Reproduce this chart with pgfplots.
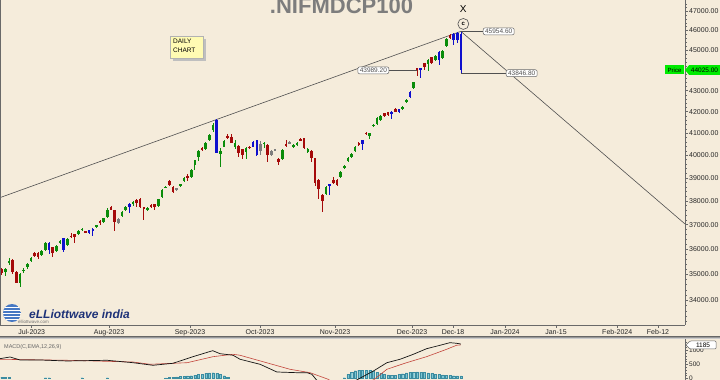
\documentclass[border=0pt]{standalone}
\usepackage{pgfplots}
\pgfplotsset{compat=1.18}
\usepackage{pgfplotstable}
\usepackage{fontspec}
\setmainfont{Liberation Sans}

\definecolor{bg}{RGB}{245,236,219}
\definecolor{cgreen}{RGB}{10,140,10}
\definecolor{cred}{RGB}{165,10,10}
\definecolor{cblue}{RGB}{15,15,205}
\definecolor{cgray}{RGB}{125,125,125}
\definecolor{macdblack}{RGB}{20,20,20}
\definecolor{macdred}{RGB}{195,70,60}
\definecolor{histfill}{RGB}{125,198,212}
\definecolor{histdraw}{RGB}{60,140,160}
\definecolor{axisgray}{RGB}{105,105,105}
\definecolor{titlegray}{RGB}{125,125,125}
\definecolor{trend}{RGB}{80,80,80}
\definecolor{logoblue}{RGB}{30,50,120}
\definecolor{globeblue}{RGB}{70,120,195}
\definecolor{tagGreen}{RGB}{0,235,0}

% daily candles: k = trading-day index (1 = 20 Jun 2023 ... 127 = 20 Dec 2023)
\pgfplotstableread{
k o h l c col
1 35200 35270 34970 35040 2
2 35090 35250 34930 35210 1
3 35470 35650 35370 35510 1
4 35570 35610 35010 35100 2
5 35100 35130 34650 34670 2
6 34650 35050 34520 35000 1
7 35150 35250 35050 35190 1
8 35300 35460 35210 35410 1
9 35540 35690 35490 35650 1
10 35830 35890 35670 35730 2
11 35830 35870 35600 35670 2
12 35750 35960 35710 35930 1
13 35960 36310 35930 36260 1
14 36260 36290 35810 35960 3
15 36070 36110 35700 35860 2
16 35940 36170 35900 36140 1
17 36240 36370 36210 36340 1
18 36440 36470 35890 35990 3
19 36180 36460 36150 36430 1
20 36550 36670 36470 36510 2
21 36620 36640 36260 36510 2
22 36610 36770 36580 36740 1
23 36790 36870 36760 36830 1
24 36730 36760 36650 36670 2
25 36780 36800 36620 36650 3
26 36840 36870 36540 36740 3
27 36930 37010 36890 36970 1
28 37160 37200 36990 37060 2
29 37130 37300 37090 37270 1
30 37320 37680 37280 37640 1
31 37760 37790 37600 37640 2
32 37620 37640 36740 37130 2
33 37240 37280 37030 37080 4
34 37370 37580 37320 37550 1
35 37620 37770 37580 37730 1
36 37870 37900 37480 37760 3
37 37900 38000 37790 37970 1
38 38040 38070 37760 37900 2
39 38070 38110 37690 37760 2
40 37720 37760 37200 37690 2
41 37620 37740 37580 37710 1
42 37840 37870 37720 37760 2
43 37860 37890 37620 37730 2
44 37790 38100 37740 38070 1
45 38160 38510 38130 38470 1
46 38570 38640 38540 38610 1
47 38860 38900 38640 38670 2
48 38610 38640 38360 38400 2
49 38540 38580 38450 38490 4
50 38640 38750 38610 38720 1
51 38870 39030 38840 39010 1
52 39090 39170 38860 39020 2
53 39030 39390 39000 39360 1
54 39550 39810 39340 39790 1
55 39930 40240 39740 40200 1
56 40310 40350 40190 40240 2
57 40280 40580 40240 40540 1
58 40680 40960 40620 40930 1
59 41130 41450 41070 41400 1
60 41610 41660 40080 40090 3
61 40050 40310 39490 40200 1
62 40390 40690 40350 40660 1
63 40880 40950 40710 40770 2
64 40840 40960 40530 40570 2
65 40390 40690 40270 40570 1
66 40430 40460 39910 40090 2
67 40270 40300 39820 40010 2
68 40160 40370 39820 40340 1
69 40390 40420 40280 40310 2
70 40580 40620 40350 40390 3
71 40690 40710 39990 40010 3
72 40490 40660 40010 40200 4
73 40490 40610 40310 40570 1
74 40460 40510 39690 40010 2
75 40190 40240 39960 40010 4
76 40260 40300 40170 40210 4
77 39830 39880 39550 39690 2
78 39830 40280 39790 40240 1
79 40490 40690 40370 40420 2
80 40590 40640 40490 40540 4
81 40390 40510 40310 40460 1
82 40460 40600 40420 40570 1
83 40730 40780 40620 40660 2
84 40770 40800 40280 40310 2
85 40160 40330 40120 40280 1
86 40200 40240 39690 39860 2
87 39860 39900 38640 38760 2
88 38900 38940 38070 38500 2
89 38250 38300 37550 38010 2
90 38300 38640 38250 38610 1
91 38720 38750 38280 38660 3
92 38900 39020 38730 38800 2
93 38900 38940 38640 38690 2
94 39020 39300 38990 39270 1
95 39470 39570 39410 39520 1
96 39740 39920 39700 39890 1
97 39930 40080 39900 40040 1
98 40190 40420 40150 40390 1
99 40570 40600 40420 40460 2
100 40690 40710 40240 40490 3
101 41020 41050 40910 40950 2
102 40870 41030 40720 40990 1
103 41330 41420 41280 41380 1
104 41440 41730 41400 41690 1
105 41610 41840 41560 41810 1
106 41920 41960 41770 41810 2
107 41970 42000 41800 41840 2
108 42000 42030 41640 41920 3
109 42110 42150 41960 42000 2
110 42110 42150 41940 41970 3
111 42110 42270 42080 42230 1
112 42470 42590 42430 42550 1
113 42680 42980 42650 42950 3
114 43140 43440 43100 43410 1
115 44090 44130 43710 43990 2
116 44090 44130 43600 44060 3
117 44340 44380 44010 44170 2
118 44310 44540 43960 44510 1
119 44640 44680 44310 44340 2
120 44510 44740 44460 44710 1
121 44920 44960 44260 44510 3
122 44620 44990 44580 44960 1
123 45220 45600 45180 45570 1
124 45770 45830 45570 45600 2
125 45810 45850 45260 45520 3
126 45860 45900 45360 45520 3
127 45820 45954.6 43846.8 44025 3
}\candles

\pgfplotstableread{
k v
1 45
2 45
3 45
13 30
14 30
23 30
30 30
46 20
47 40
48 50
49 60
50 70
51 80
52 90
53 100
54 120
55 140
56 160
57 180
58 200
59 207
60 180
61 140
62 100
63 50
95 30
96 150
97 230
98 280
99 300
100 300
101 300
102 290
103 260
104 220
105 180
106 150
107 130
108 115
109 120
110 140
111 170
112 200
113 220
114 230
115 235
116 230
117 220
118 200
119 180
120 160
121 140
122 130
123 120
124 110
125 100
126 95
127 90
}\hist

\pgfplotsset{
  candle/.style n args={3}{no markers, draw=none, forget plot,
    restrict expr to domain={\thisrow{col}}{#1},
    error bars/.cd, y dir=both, y explicit, error mark=none,
    error bar style={draw=#2, solid, line width=#3}},
}

\begin{document}
\begin{tikzpicture}[x=1pt,y=1pt]
\useasboundingbox (0pt,0pt) rectangle (720pt,380pt);
\clip (0pt,0pt) rectangle (720pt,380pt);
\fill[bg] (0pt,0pt) rectangle (720pt,380pt);

% title
\node[anchor=base, font=\fontsize{22}{22}\selectfont\bfseries, text=titlegray, inner sep=0] at (341.5pt,366pt) {.NIFMDCP100};

% price panel: y axis is log10(price), i.e. a logarithmic price scale
\begin{axis}[
  at={(0pt,55pt)}, anchor=south west, width=685pt, height=325pt, scale only axis,
  xmin=0.533, xmax=188.5, ymin=4.51936, ymax=4.67760,
  axis x line*=bottom, axis y line*=right,
  axis line style={axisgray, line width=0.7pt},
  every tick/.style={axisgray, line width=0.45pt},
  tick align=outside, major tick length=3pt, minor tick length=1.8pt,
  xtick={9.23,30.45,52.67,71.88,92.47,113.6,124.85,139.1,153.1,169.9,181.1},
  xticklabels={Jul-2023,Aug-2023,Sep-2023,Oct-2023,Nov-2023,Dec-2023,Dec-18,Jan-2024,Jan-15,Feb-2024,Feb-12},
  ytick={4.531479,4.544068,4.556303,4.568202,4.579784,4.591065,4.602060,4.612784,4.623249,4.633468,4.643453,4.653213,4.662758,4.672098},
  yticklabels={34000.00,35000.00,36000.00,37000.00,38000.00,39000.00,40000.00,41000.00,42000.00,43000.00,44000.00,45000.00,46000.00,47000.00},
  minor ytick={4.521107,4.523700,4.526293,4.528886,4.533997,4.536515,4.539032,4.541550,4.546515,4.548962,4.551409,4.553856,4.558683,4.561063,4.563442,4.565822,4.570518,4.572835,4.575151,4.577468,4.582040,4.584296,4.586553,4.588809,4.593264,4.595463,4.597662,4.599861,4.604205,4.606350,4.608494,4.610639,4.614877,4.616970,4.619063,4.621156,4.625293,4.627337,4.629380,4.631424,4.635465,4.637462,4.639459,4.641456,4.645405,4.647357,4.649309,4.651261,4.655122,4.657031,4.658940,4.660849,4.664626,4.666494,4.668362,4.670230,4.673927,4.675755},
  ticklabel style={font=\fontsize{7}{8}\selectfont, text=black!85, inner sep=1pt},
  yticklabel style={anchor=west},
  scaled y ticks=false,
  clip mode=individual,
]
% trend lines (price 38140 at left edge, 45954.6 top, 37030 at right edge)
\addplot[trend, line width=0.6pt] coordinates {(0.533,4.581381) (127,4.662328)};
\addplot[trend, line width=0.6pt] coordinates {(127,4.662328) (188.5,4.568554)};

% wicks
\addplot[candle={0.5:1.5}{cgreen}{0.7pt}] table[x=k, y expr={(log10(\thisrow{h})+log10(\thisrow{l}))/2}, y error expr={(log10(\thisrow{h})-log10(\thisrow{l}))/2}] {\candles};
\addplot[candle={1.5:2.5}{cred}{0.7pt}] table[x=k, y expr={(log10(\thisrow{h})+log10(\thisrow{l}))/2}, y error expr={(log10(\thisrow{h})-log10(\thisrow{l}))/2}] {\candles};
\addplot[candle={2.5:3.5}{cblue}{0.7pt}] table[x=k, y expr={(log10(\thisrow{h})+log10(\thisrow{l}))/2}, y error expr={(log10(\thisrow{h})-log10(\thisrow{l}))/2}] {\candles};
\addplot[candle={3.5:4.5}{cgray}{0.7pt}] table[x=k, y expr={(log10(\thisrow{h})+log10(\thisrow{l}))/2}, y error expr={(log10(\thisrow{h})-log10(\thisrow{l}))/2}] {\candles};
% bodies
\addplot[candle={0.5:1.5}{cgreen}{2.6pt}] table[x=k, y expr={(log10(\thisrow{o})+log10(\thisrow{c}))/2}, y error expr={max(abs(log10(\thisrow{c})-log10(\thisrow{o}))/2,0.00025)}] {\candles};
\addplot[candle={1.5:2.5}{cred}{2.6pt}] table[x=k, y expr={(log10(\thisrow{o})+log10(\thisrow{c}))/2}, y error expr={max(abs(log10(\thisrow{c})-log10(\thisrow{o}))/2,0.00025)}] {\candles};
\addplot[candle={2.5:3.5}{cblue}{2.6pt}] table[x=k, y expr={(log10(\thisrow{o})+log10(\thisrow{c}))/2}, y error expr={max(abs(log10(\thisrow{c})-log10(\thisrow{o}))/2,0.00025)}] {\candles};
\addplot[candle={3.5:4.5}{cgray}{2.6pt}] table[x=k, y expr={(log10(\thisrow{o})+log10(\thisrow{c}))/2}, y error expr={max(abs(log10(\thisrow{c})-log10(\thisrow{o}))/2,0.00025)}] {\candles};

\coordinate (hi) at (axis cs:127,4.662328);
\coordinate (lo) at (axis cs:127,4.641937);
\coordinate (mid) at (axis cs:115,4.643346);
\coordinate (xlab) at (axis cs:127.67,4.673067);
\coordinate (circ) at (axis cs:127.67,4.665938);
\end{axis}

% left frame line
\draw[axisgray, line width=1pt] (0.5pt,55pt) -- (0.5pt,380pt);

% annotations
\tikzset{lbl/.style={draw=axisgray, fill=white, rounded corners=2pt, font=\fontsize{6.5}{7}\selectfont, inner xsep=2pt, inner ysep=1.2pt, line width=0.5pt}}
\draw[trend, line width=0.5pt] (hi) -- ++(22pt,0pt) node[lbl, anchor=west] {45954.60};
\draw[trend, line width=0.5pt] (mid) -- ++(-28pt,0pt) node[lbl, anchor=east] {43989.20};
\draw[trend, line width=0.5pt] (lo) -- ++(45pt,0pt) node[lbl, anchor=west] {43846.80};
\draw[trend, line width=0.6pt] (circ) circle (5.5pt);
\node[font=\fontsize{6}{6}\selectfont\bfseries] at (circ) {c};
\node[font=\fontsize{10}{10}\selectfont] at (xlab) {X};

% daily chart box
\fill[black!25] (173pt,319pt) rectangle (206pt,341pt);
\fill[yellow!30] (170pt,322pt) rectangle (203pt,344pt);
\draw[black!30, line width=0.3pt] (170pt,322pt) rectangle (203pt,344pt);
\node[anchor=north west, align=left, font=\fontsize{6.5}{9}\selectfont, inner sep=0] at (173pt,341.5pt) {DAILY\\CHART};

% price tag
\fill[tagGreen] (665pt,305.5pt) rectangle (684pt,314.5pt);
\node[font=\fontsize{6}{6}\selectfont] at (674.5pt,310pt) {Price};
\fill[tagGreen] (685pt,310pt) -- (689pt,314.8pt) -- (720pt,314.8pt) -- (720pt,305.2pt) -- (689pt,305.2pt) -- cycle;
\node[font=\fontsize{6.5}{6.5}\selectfont] at (704.5pt,310pt) {44025.00};

% logo
\begin{scope}
\clip (12pt,67pt) circle (9pt);
\fill[globeblue] (12pt,67pt) circle (9pt);
\foreach \yy in {-6,-3,0,3,6} {\draw[white, line width=0.9pt] (2pt,67pt+\yy pt) -- (22pt,67pt+\yy pt);}
\end{scope}
\node[anchor=west, font=\fontsize{12}{12}\selectfont\bfseries\itshape, text=logoblue, inner sep=0] at (29pt,66pt) {eLLiottwave india};
\node[anchor=west, font=\fontsize{4.5}{5}\selectfont, text=black!55, inner sep=0] at (18pt,58.5pt) {elliottwave.com};

% separator
\fill[black!40] (0pt,40.5pt) rectangle (720pt,44pt);
\draw[black!60, line width=0.4pt] (0pt,44pt) -- (720pt,44pt);
\draw[black!20, line width=0.4pt] (0pt,42pt) -- (720pt,42pt);

% MACD panel
\begin{axis}[
  at={(0pt,0pt)}, anchor=south west, width=685pt, height=40.5pt, scale only axis,
  xmin=0.533, xmax=188.5, ymin=-54, ymax=1392,
  axis x line=none, axis y line*=right,
  axis line style={axisgray, line width=0.7pt},
  every tick/.style={axisgray, line width=0.45pt},
  tick align=outside, major tick length=3pt, minor tick length=1.8pt,
  ytick={0,500,1000}, yticklabels={0,500,1000},
  minor ytick={100,200,300,400,600,700,800,900,1100,1200,1300},
  yticklabel style={font=\fontsize{6.5}{7}\selectfont, anchor=west, inner sep=1pt, text=black!85},
]
\addplot[ybar, bar width=2.2pt, fill=histfill, draw=histdraw, line width=0.2pt] table[x=k, y=v] {\hist};
\addplot[macdred, line width=0.6pt] coordinates {(0.53,686) (18.9,650) (37,589) (41.7,507) (51.9,564) (59,779) (64.5,864) (66.4,829) (80.1,329) (85.6,207) (90.6,-29) (92,-150) (96,-250) (100,-150) (103,-54) (106.7,329) (112.1,564) (117.6,779) (123.1,1043) (125.8,1186) (127,1200)};
\addplot[macdblack, line width=0.7pt] coordinates {(0.53,707) (3.28,768) (6.02,661) (11.5,661) (18.9,625) (29.9,650) (37,564) (42.5,471) (48,543) (53.5,779) (58.9,993) (60.9,886) (64.5,829) (66.4,686) (71.9,507) (76.5,232) (82,207) (84.8,207) (86.1,150) (87.4,-54) (89,-200) (92,-400) (95,-300) (97,-150) (98.4,-54) (103,268) (106.7,564) (110.3,686) (113.95,864) (117.6,1064) (121.3,1186) (124,1279) (125.8,1257) (127,1230)};
\end{axis}
\node[anchor=west, font=\fontsize{5.5}{6}\selectfont, text=black!60, inner sep=0] at (4pt,33pt) {MACD(C,EMA,12,26,9)};
\draw[axisgray, fill=white, line width=0.5pt, rounded corners=1pt] (686pt,35pt) -- (690pt,39pt) -- (716pt,39pt) -- (716pt,31pt) -- (690pt,31pt) -- cycle;
\node[font=\fontsize{6.5}{6.5}\selectfont] at (703pt,35pt) {1185};
\end{tikzpicture}
\end{document}
